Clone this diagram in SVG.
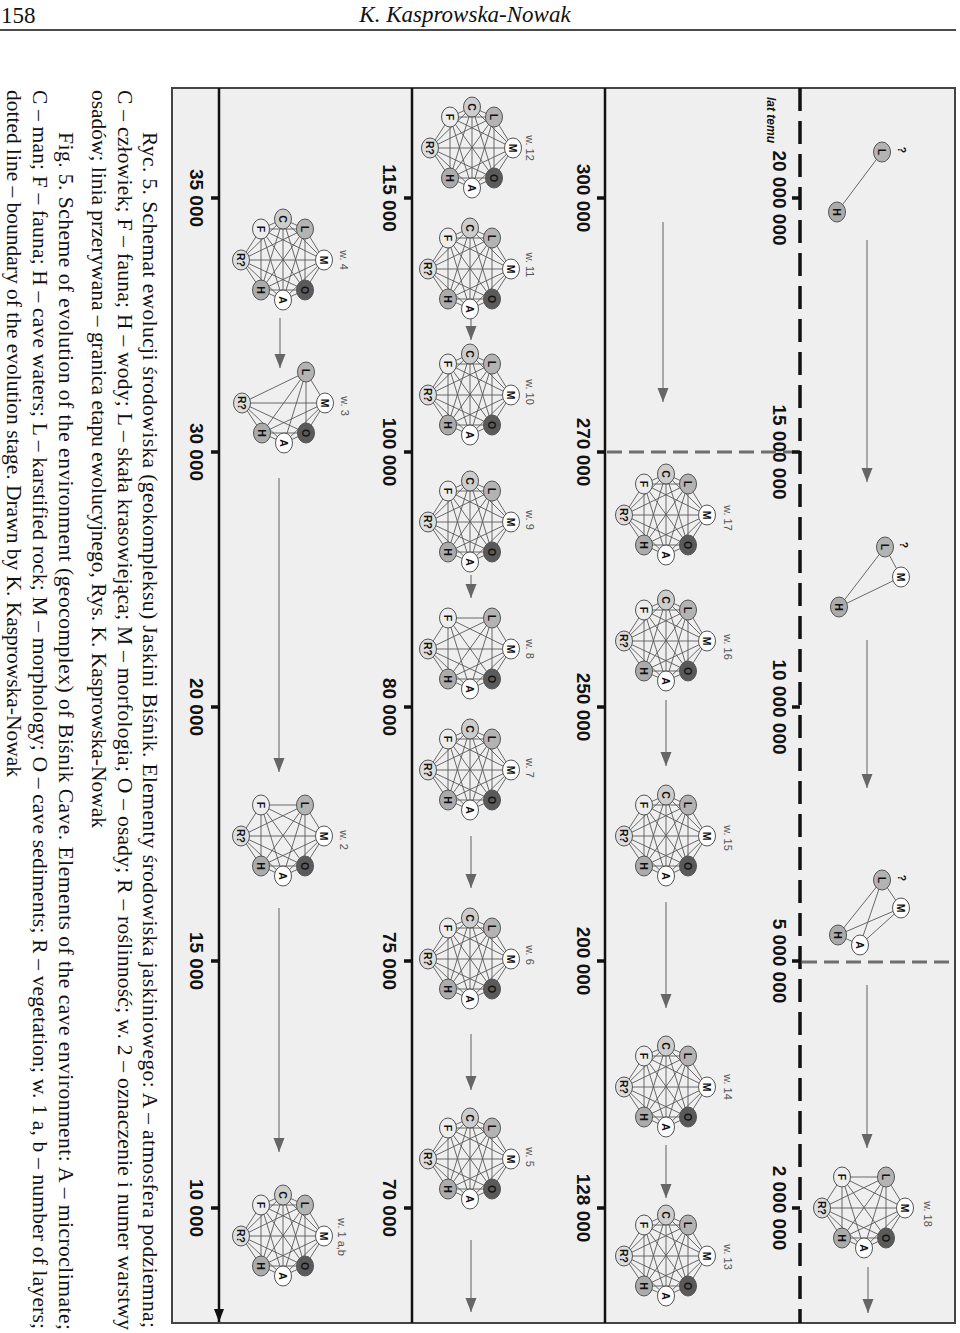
<svg xmlns="http://www.w3.org/2000/svg" xmlns:xlink="http://www.w3.org/1999/xlink" width="960" height="1333" viewBox="0 0 960 1333">
<style>
.e{fill:none;stroke:#595959;stroke-width:0.9}
ellipse{stroke:#555;stroke-width:1}
.nc{fill:#cdcdcd}.nl{fill:#b3b3b3}.nw{fill:#fff}.no{fill:#5a5a5a}.nh{fill:#ababab}.nr{fill:#dedede}.nf{fill:#ededed}
.t{font-family:"Liberation Sans",Arial,sans-serif;font-weight:bold;font-size:10.5px;text-anchor:middle;dominant-baseline:central;fill:#111}
.wl{font-family:"Liberation Sans",Arial,sans-serif;font-size:11px;fill:#555;text-anchor:middle}
.ax{font-family:"Liberation Sans",Arial,sans-serif;font-weight:bold;font-size:19px;text-anchor:middle;fill:#111}
.lt{font-family:"Liberation Sans",Arial,sans-serif;font-weight:bold;font-style:italic;font-size:12px;fill:#111}
.cap{font-family:"Liberation Serif","Times New Roman",serif;font-size:21.5px;fill:#111}
.hd{font-family:"Liberation Serif","Times New Roman",serif;font-size:23px;fill:#111}
.arr{stroke:#777;stroke-width:1.2;fill:none;marker-end:url(#ah)}
.axis{stroke:#111;stroke-width:2.5;fill:none}
.tick{stroke:#111;stroke-width:3.5}
.gd{stroke:#6e6e6e;stroke-width:3;stroke-dasharray:15 7;fill:none}
</style>
<defs>
<marker id="ah" viewBox="0 0 14 12" refX="14" refY="6" markerWidth="14" markerHeight="12" orient="auto" markerUnits="userSpaceOnUse"><path d="M0,0.5 L14,6 L0,11.5 z" fill="#666"/></marker>
<marker id="ahk" viewBox="0 0 13 10" refX="13" refY="5" markerWidth="13" markerHeight="10" orient="auto" markerUnits="userSpaceOnUse"><path d="M0,0 L13,5 L0,10 z" fill="#111"/></marker>
<path id="e6" class="e" d="M22 -31L41 0M22 -31L22 30M22 -31L0 40M22 -31L-22 30M22 -31L-42 0M41 0L22 30M41 0L0 40M41 0L-22 30M41 0L-42 0M22 30L0 40M22 30L-22 30M22 30L-42 0M0 40L-22 30M0 40L-42 0M-22 30L-42 0"/>
<path id="eF" class="e" d="M-22 -31L22 -31M-22 -31L41 0M-22 -31L22 30M-22 -31L0 40M-22 -31L-22 30M-22 -31L-42 0"/>
<path id="eC" class="e" d="M0 -41L22 -31M0 -41L41 0M0 -41L22 30M0 -41L0 40M0 -41L-22 30M0 -41L-42 0M0 -41L-22 -31"/>
<g id="k7"><use xlink:href="#e6" href="#e6"/><use xlink:href="#eF" href="#eF"/></g>
<g id="k8"><use xlink:href="#k7" href="#k7"/><use xlink:href="#eC" href="#eC"/></g>
</defs>

<g id="header">
<text class="hd" x="1" y="23">158</text>
<text class="hd" x="465" y="22" text-anchor="middle" font-style="italic">K. Kasprowska-Nowak</text>
<line x1="0" y1="30" x2="956" y2="30" stroke="#111" stroke-width="1.5"/>
</g>

<g id="frame">
<rect x="172" y="88" width="783" height="1235" fill="#efefef" stroke="#444" stroke-width="2"/>
<line class="axis" x1="219" y1="88" x2="219" y2="1322" marker-end="url(#ahk)"/>
<line class="axis" x1="412" y1="88" x2="412" y2="1323"/>
<line class="axis" x1="605" y1="88" x2="605" y2="1323"/>
<line x1="800" y1="88" x2="800" y2="1323" stroke="#111" stroke-width="3.5" stroke-dasharray="23 10"/>
<line class="gd" x1="607" y1="452" x2="793" y2="452"/>
<line class="gd" x1="802" y1="962" x2="955" y2="962"/>
<g id="ticks">
<path class="tick" d="M211 198H219M211 452H219M211 707H219M211 961H219M211 1208H219"/>
<path class="tick" d="M404 198H412M404 452H412M404 707H412M404 961H412M404 1208H412"/>
<path class="tick" d="M597 198H605M597 452H605M597 707H605M597 961H605M597 1208H605"/>
<path class="tick" d="M792 198H800M792 452H800M792 707H800M792 961H800M792 1208H800"/>
</g>
</g>

<g id="axis-labels">
<text class="lt" transform="translate(767,97) rotate(90)">lat temu</text>
<text class="ax" transform="translate(773,198) rotate(90)">20 000 000</text>
<text class="ax" transform="translate(773,452) rotate(90)">15 000 000</text>
<text class="ax" transform="translate(773,707) rotate(90)">10 000 000</text>
<text class="ax" transform="translate(773,961) rotate(90)">5 000 000</text>
<text class="ax" transform="translate(773,1208) rotate(90)">2 000 000</text>
<text class="ax" transform="translate(577,198) rotate(90)">300 000</text>
<text class="ax" transform="translate(577,452) rotate(90)">270 000</text>
<text class="ax" transform="translate(577,707) rotate(90)">250 000</text>
<text class="ax" transform="translate(577,961) rotate(90)">200 000</text>
<text class="ax" transform="translate(577,1208) rotate(90)">128 000</text>
<text class="ax" transform="translate(383,198) rotate(90)">115 000</text>
<text class="ax" transform="translate(383,452) rotate(90)">100 000</text>
<text class="ax" transform="translate(383,707) rotate(90)">80 000</text>
<text class="ax" transform="translate(383,961) rotate(90)">75 000</text>
<text class="ax" transform="translate(383,1208) rotate(90)">70 000</text>
<text class="ax" transform="translate(190,198) rotate(90)">35 000</text>
<text class="ax" transform="translate(190,452) rotate(90)">30 000</text>
<text class="ax" transform="translate(190,707) rotate(90)">20 000</text>
<text class="ax" transform="translate(190,961) rotate(90)">15 000</text>
<text class="ax" transform="translate(190,1208) rotate(90)">10 000</text>
</g>

<g id="connectors">
<line class="arr" x1="867" y1="240" x2="867" y2="482"/>
<line class="arr" x1="867" y1="640" x2="867" y2="788"/>
<line class="arr" x1="867" y1="985" x2="867" y2="1148"/>
<line class="arr" x1="868" y1="1267" x2="868" y2="1313"/>
<line class="arr" x1="663" y1="222" x2="663" y2="402"/>
<line class="arr" x1="666" y1="700" x2="666" y2="766"/>
<line class="arr" x1="666" y1="902" x2="666" y2="1008"/>
<line class="arr" x1="666" y1="1145" x2="666" y2="1198"/>
<line class="arr" x1="471" y1="318" x2="471" y2="340"/>
<line class="arr" x1="471" y1="575" x2="471" y2="598"/>
<line class="arr" x1="471" y1="836" x2="471" y2="888"/>
<line class="arr" x1="471" y1="1034" x2="471" y2="1090"/>
<line class="arr" x1="471" y1="1240" x2="471" y2="1312"/>
<line class="arr" x1="280" y1="318" x2="280" y2="368"/>
<line class="arr" x1="279" y1="478" x2="279" y2="772"/>
<line class="arr" x1="279" y1="908" x2="279" y2="1152"/>
</g>

<g id="g20M">
<line class="e" x1="882" y1="152" x2="837" y2="212"/>
<ellipse class="nl" cx="882" cy="152" rx="8.5" ry="10"/><ellipse class="nh" cx="837" cy="212" rx="8.5" ry="10"/>
<text class="t" transform="translate(882,152) rotate(90)">L</text><text class="t" transform="translate(837,212) rotate(90)">H</text>
<text class="t" font-size="11px" transform="translate(902,150) rotate(90)">?</text>
</g>
<g id="g15M">
<path class="e" d="M885 547L901 577M885 547L839 607M901 577L839 607"/>
<ellipse class="nl" cx="885" cy="547" rx="8.5" ry="10"/><ellipse class="nw" cx="901" cy="577" rx="8.5" ry="10"/><ellipse class="nh" cx="839" cy="607" rx="8.5" ry="10"/>
<text class="t" transform="translate(885,547) rotate(90)">L</text><text class="t" transform="translate(901,577) rotate(90)">M</text><text class="t" transform="translate(839,607) rotate(90)">H</text>
<text class="t" font-size="11px" transform="translate(904,545) rotate(90)">?</text>
</g>
<g id="g5M">
<path class="e" d="M882 880L901 908M882 880L838 935M882 880L860 945M901 908L838 935M901 908L860 945M838 935L860 945"/>
<ellipse class="nl" cx="882" cy="880" rx="8.5" ry="10"/><ellipse class="nw" cx="901" cy="908" rx="8.5" ry="10"/><ellipse class="nh" cx="838" cy="935" rx="8.5" ry="10"/><ellipse class="nw" cx="860" cy="945" rx="8.5" ry="10"/>
<text class="t" transform="translate(882,880) rotate(90)">L</text><text class="t" transform="translate(901,908) rotate(90)">M</text><text class="t" transform="translate(838,935) rotate(90)">H</text><text class="t" transform="translate(860,945) rotate(90)">A</text>
<text class="t" font-size="11px" transform="translate(902,878) rotate(90)">?</text>
</g>

<g id="w18" transform="translate(864,1208)">
<use xlink:href="#k7" href="#k7"/>
<ellipse class="nl" cx="22" cy="-31" rx="8.5" ry="10"/><ellipse class="nw" cx="41" cy="0" rx="8.5" ry="10"/><ellipse class="no" cx="22" cy="30" rx="8.5" ry="10"/><ellipse class="nw" cx="0" cy="40" rx="8.5" ry="10"/><ellipse class="nh" cx="-22" cy="30" rx="8.5" ry="10"/><ellipse class="nr" cx="-42" cy="0" rx="8.5" ry="10"/><ellipse class="nf" cx="-22" cy="-31" rx="8.5" ry="10"/>
<text class="t" transform="translate(22,-31) rotate(90)">L</text><text class="t" transform="translate(41,0) rotate(90)">M</text><text class="t" transform="translate(22,30) rotate(90)">O</text><text class="t" transform="translate(0,40) rotate(90)">A</text><text class="t" transform="translate(-22,30) rotate(90)">H</text><text class="t" transform="translate(-42,0) rotate(90)">R?</text><text class="t" transform="translate(-22,-31) rotate(90)">F</text>
<text class="wl" transform="translate(60,6) rotate(90)">w. 18</text>
</g>

<g id="w17" transform="translate(666,515)">
<use xlink:href="#k8" href="#k8"/>
<ellipse class="nc" cx="0" cy="-41" rx="8.5" ry="10"/><ellipse class="nl" cx="22" cy="-31" rx="8.5" ry="10"/><ellipse class="nw" cx="41" cy="0" rx="8.5" ry="10"/><ellipse class="no" cx="22" cy="30" rx="8.5" ry="10"/><ellipse class="nw" cx="0" cy="40" rx="8.5" ry="10"/><ellipse class="nh" cx="-22" cy="30" rx="8.5" ry="10"/><ellipse class="nr" cx="-42" cy="0" rx="8.5" ry="10"/><ellipse class="nf" cx="-22" cy="-31" rx="8.5" ry="10"/>
<text class="t" transform="translate(0,-41) rotate(90)">C</text><text class="t" transform="translate(22,-31) rotate(90)">L</text><text class="t" transform="translate(41,0) rotate(90)">M</text><text class="t" transform="translate(22,30) rotate(90)">O</text><text class="t" transform="translate(0,40) rotate(90)">A</text><text class="t" transform="translate(-22,30) rotate(90)">H</text><text class="t" transform="translate(-42,0) rotate(90)">R?</text><text class="t" transform="translate(-22,-31) rotate(90)">F</text>
<text class="wl" transform="translate(58,3) rotate(90)">w. 17</text>
</g>

<g id="w16" transform="translate(666,641)">
<use xlink:href="#k8" href="#k8"/>
<ellipse class="nc" cx="0" cy="-41" rx="8.5" ry="10"/><ellipse class="nl" cx="22" cy="-31" rx="8.5" ry="10"/><ellipse class="nw" cx="41" cy="0" rx="8.5" ry="10"/><ellipse class="no" cx="22" cy="30" rx="8.5" ry="10"/><ellipse class="nw" cx="0" cy="40" rx="8.5" ry="10"/><ellipse class="nh" cx="-22" cy="30" rx="8.5" ry="10"/><ellipse class="nr" cx="-42" cy="0" rx="8.5" ry="10"/><ellipse class="nf" cx="-22" cy="-31" rx="8.5" ry="10"/>
<text class="t" transform="translate(0,-41) rotate(90)">C</text><text class="t" transform="translate(22,-31) rotate(90)">L</text><text class="t" transform="translate(41,0) rotate(90)">M</text><text class="t" transform="translate(22,30) rotate(90)">O</text><text class="t" transform="translate(0,40) rotate(90)">A</text><text class="t" transform="translate(-22,30) rotate(90)">H</text><text class="t" transform="translate(-42,0) rotate(90)">R?</text><text class="t" transform="translate(-22,-31) rotate(90)">F</text>
<text class="wl" transform="translate(58,6) rotate(90)">w. 16</text>
</g>

<g id="w15" transform="translate(666,836)">
<use xlink:href="#k8" href="#k8"/>
<ellipse class="nc" cx="0" cy="-41" rx="8.5" ry="10"/><ellipse class="nl" cx="22" cy="-31" rx="8.5" ry="10"/><ellipse class="nw" cx="41" cy="0" rx="8.5" ry="10"/><ellipse class="no" cx="22" cy="30" rx="8.5" ry="10"/><ellipse class="nw" cx="0" cy="40" rx="8.5" ry="10"/><ellipse class="nh" cx="-22" cy="30" rx="8.5" ry="10"/><ellipse class="nr" cx="-42" cy="0" rx="8.5" ry="10"/><ellipse class="nf" cx="-22" cy="-31" rx="8.5" ry="10"/>
<text class="t" transform="translate(0,-41) rotate(90)">C</text><text class="t" transform="translate(22,-31) rotate(90)">L</text><text class="t" transform="translate(41,0) rotate(90)">M</text><text class="t" transform="translate(22,30) rotate(90)">O</text><text class="t" transform="translate(0,40) rotate(90)">A</text><text class="t" transform="translate(-22,30) rotate(90)">H</text><text class="t" transform="translate(-42,0) rotate(90)">R?</text><text class="t" transform="translate(-22,-31) rotate(90)">F</text>
<text class="wl" transform="translate(58,2) rotate(90)">w. 15</text>
</g>

<g id="w14" transform="translate(666,1087)">
<use xlink:href="#k8" href="#k8"/>
<ellipse class="nc" cx="0" cy="-41" rx="8.5" ry="10"/><ellipse class="nl" cx="22" cy="-31" rx="8.5" ry="10"/><ellipse class="nw" cx="41" cy="0" rx="8.5" ry="10"/><ellipse class="no" cx="22" cy="30" rx="8.5" ry="10"/><ellipse class="nw" cx="0" cy="40" rx="8.5" ry="10"/><ellipse class="nh" cx="-22" cy="30" rx="8.5" ry="10"/><ellipse class="nr" cx="-42" cy="0" rx="8.5" ry="10"/><ellipse class="nf" cx="-22" cy="-31" rx="8.5" ry="10"/>
<text class="t" transform="translate(0,-41) rotate(90)">C</text><text class="t" transform="translate(22,-31) rotate(90)">L</text><text class="t" transform="translate(41,0) rotate(90)">M</text><text class="t" transform="translate(22,30) rotate(90)">O</text><text class="t" transform="translate(0,40) rotate(90)">A</text><text class="t" transform="translate(-22,30) rotate(90)">H</text><text class="t" transform="translate(-42,0) rotate(90)">R?</text><text class="t" transform="translate(-22,-31) rotate(90)">F</text>
<text class="wl" transform="translate(58,0) rotate(90)">w. 14</text>
</g>

<g id="w13" transform="translate(666,1256)">
<use xlink:href="#k8" href="#k8"/>
<ellipse class="nc" cx="0" cy="-41" rx="8.5" ry="10"/><ellipse class="nl" cx="22" cy="-31" rx="8.5" ry="10"/><ellipse class="nw" cx="41" cy="0" rx="8.5" ry="10"/><ellipse class="no" cx="22" cy="30" rx="8.5" ry="10"/><ellipse class="nw" cx="0" cy="40" rx="8.5" ry="10"/><ellipse class="nh" cx="-22" cy="30" rx="8.5" ry="10"/><ellipse class="nr" cx="-42" cy="0" rx="8.5" ry="10"/><ellipse class="nf" cx="-22" cy="-31" rx="8.5" ry="10"/>
<text class="t" transform="translate(0,-41) rotate(90)">C</text><text class="t" transform="translate(22,-31) rotate(90)">L</text><text class="t" transform="translate(41,0) rotate(90)">M</text><text class="t" transform="translate(22,30) rotate(90)">O</text><text class="t" transform="translate(0,40) rotate(90)">A</text><text class="t" transform="translate(-22,30) rotate(90)">H</text><text class="t" transform="translate(-42,0) rotate(90)">R?</text><text class="t" transform="translate(-22,-31) rotate(90)">F</text>
<text class="wl" transform="translate(58,1) rotate(90)">w. 13</text>
</g>

<g id="w12" transform="translate(472,148)">
<use xlink:href="#k8" href="#k8"/>
<ellipse class="nc" cx="0" cy="-41" rx="8.5" ry="10"/><ellipse class="nl" cx="22" cy="-31" rx="8.5" ry="10"/><ellipse class="nw" cx="41" cy="0" rx="8.5" ry="10"/><ellipse class="no" cx="22" cy="30" rx="8.5" ry="10"/><ellipse class="nw" cx="0" cy="40" rx="8.5" ry="10"/><ellipse class="nh" cx="-22" cy="30" rx="8.5" ry="10"/><ellipse class="nr" cx="-42" cy="0" rx="8.5" ry="10"/><ellipse class="nf" cx="-22" cy="-31" rx="8.5" ry="10"/>
<text class="t" transform="translate(0,-41) rotate(90)">C</text><text class="t" transform="translate(22,-31) rotate(90)">L</text><text class="t" transform="translate(41,0) rotate(90)">M</text><text class="t" transform="translate(22,30) rotate(90)">O</text><text class="t" transform="translate(0,40) rotate(90)">A</text><text class="t" transform="translate(-22,30) rotate(90)">H</text><text class="t" transform="translate(-42,0) rotate(90)">R?</text><text class="t" transform="translate(-22,-31) rotate(90)">F</text>
<text class="wl" transform="translate(54,0) rotate(90)">w. 12</text>
</g>

<g id="w11" transform="translate(470,269)">
<use xlink:href="#k8" href="#k8"/>
<ellipse class="nc" cx="0" cy="-41" rx="8.5" ry="10"/><ellipse class="nl" cx="22" cy="-31" rx="8.5" ry="10"/><ellipse class="nw" cx="41" cy="0" rx="8.5" ry="10"/><ellipse class="no" cx="22" cy="30" rx="8.5" ry="10"/><ellipse class="nw" cx="0" cy="40" rx="8.5" ry="10"/><ellipse class="nh" cx="-22" cy="30" rx="8.5" ry="10"/><ellipse class="nr" cx="-42" cy="0" rx="8.5" ry="10"/><ellipse class="nf" cx="-22" cy="-31" rx="8.5" ry="10"/>
<text class="t" transform="translate(0,-41) rotate(90)">C</text><text class="t" transform="translate(22,-31) rotate(90)">L</text><text class="t" transform="translate(41,0) rotate(90)">M</text><text class="t" transform="translate(22,30) rotate(90)">O</text><text class="t" transform="translate(0,40) rotate(90)">A</text><text class="t" transform="translate(-22,30) rotate(90)">H</text><text class="t" transform="translate(-42,0) rotate(90)">R?</text><text class="t" transform="translate(-22,-31) rotate(90)">F</text>
<text class="wl" transform="translate(56,-4) rotate(90)">w. 11</text>
</g>

<g id="w10" transform="translate(470,395)">
<use xlink:href="#k8" href="#k8"/>
<ellipse class="nc" cx="0" cy="-41" rx="8.5" ry="10"/><ellipse class="nl" cx="22" cy="-31" rx="8.5" ry="10"/><ellipse class="nw" cx="41" cy="0" rx="8.5" ry="10"/><ellipse class="no" cx="22" cy="30" rx="8.5" ry="10"/><ellipse class="nw" cx="0" cy="40" rx="8.5" ry="10"/><ellipse class="nh" cx="-22" cy="30" rx="8.5" ry="10"/><ellipse class="nr" cx="-42" cy="0" rx="8.5" ry="10"/><ellipse class="nf" cx="-22" cy="-31" rx="8.5" ry="10"/>
<text class="t" transform="translate(0,-41) rotate(90)">C</text><text class="t" transform="translate(22,-31) rotate(90)">L</text><text class="t" transform="translate(41,0) rotate(90)">M</text><text class="t" transform="translate(22,30) rotate(90)">O</text><text class="t" transform="translate(0,40) rotate(90)">A</text><text class="t" transform="translate(-22,30) rotate(90)">H</text><text class="t" transform="translate(-42,0) rotate(90)">R?</text><text class="t" transform="translate(-22,-31) rotate(90)">F</text>
<text class="wl" transform="translate(56,-3) rotate(90)">w. 10</text>
</g>

<g id="w9" transform="translate(470,522)">
<use xlink:href="#k8" href="#k8"/>
<ellipse class="nc" cx="0" cy="-41" rx="8.5" ry="10"/><ellipse class="nl" cx="22" cy="-31" rx="8.5" ry="10"/><ellipse class="nw" cx="41" cy="0" rx="8.5" ry="10"/><ellipse class="no" cx="22" cy="30" rx="8.5" ry="10"/><ellipse class="nw" cx="0" cy="40" rx="8.5" ry="10"/><ellipse class="nh" cx="-22" cy="30" rx="8.5" ry="10"/><ellipse class="nr" cx="-42" cy="0" rx="8.5" ry="10"/><ellipse class="nf" cx="-22" cy="-31" rx="8.5" ry="10"/>
<text class="t" transform="translate(0,-41) rotate(90)">C</text><text class="t" transform="translate(22,-31) rotate(90)">L</text><text class="t" transform="translate(41,0) rotate(90)">M</text><text class="t" transform="translate(22,30) rotate(90)">O</text><text class="t" transform="translate(0,40) rotate(90)">A</text><text class="t" transform="translate(-22,30) rotate(90)">H</text><text class="t" transform="translate(-42,0) rotate(90)">R?</text><text class="t" transform="translate(-22,-31) rotate(90)">F</text>
<text class="wl" transform="translate(56,-2) rotate(90)">w. 9</text>
</g>

<g id="w8" transform="translate(470,649)">
<use xlink:href="#k7" href="#k7"/>
<ellipse class="nl" cx="22" cy="-31" rx="8.5" ry="10"/><ellipse class="nw" cx="41" cy="0" rx="8.5" ry="10"/><ellipse class="no" cx="22" cy="30" rx="8.5" ry="10"/><ellipse class="nw" cx="0" cy="40" rx="8.5" ry="10"/><ellipse class="nh" cx="-22" cy="30" rx="8.5" ry="10"/><ellipse class="nr" cx="-42" cy="0" rx="8.5" ry="10"/><ellipse class="nf" cx="-22" cy="-31" rx="8.5" ry="10"/>
<text class="t" transform="translate(22,-31) rotate(90)">L</text><text class="t" transform="translate(41,0) rotate(90)">M</text><text class="t" transform="translate(22,30) rotate(90)">O</text><text class="t" transform="translate(0,40) rotate(90)">A</text><text class="t" transform="translate(-22,30) rotate(90)">H</text><text class="t" transform="translate(-42,0) rotate(90)">R?</text><text class="t" transform="translate(-22,-31) rotate(90)">F</text>
<text class="wl" transform="translate(56,0) rotate(90)">w. 8</text>
</g>

<g id="w7" transform="translate(470,770)">
<use xlink:href="#k8" href="#k8"/>
<ellipse class="nc" cx="0" cy="-41" rx="8.5" ry="10"/><ellipse class="nl" cx="22" cy="-31" rx="8.5" ry="10"/><ellipse class="nw" cx="41" cy="0" rx="8.5" ry="10"/><ellipse class="no" cx="22" cy="30" rx="8.5" ry="10"/><ellipse class="nw" cx="0" cy="40" rx="8.5" ry="10"/><ellipse class="nh" cx="-22" cy="30" rx="8.5" ry="10"/><ellipse class="nr" cx="-42" cy="0" rx="8.5" ry="10"/><ellipse class="nf" cx="-22" cy="-31" rx="8.5" ry="10"/>
<text class="t" transform="translate(0,-41) rotate(90)">C</text><text class="t" transform="translate(22,-31) rotate(90)">L</text><text class="t" transform="translate(41,0) rotate(90)">M</text><text class="t" transform="translate(22,30) rotate(90)">O</text><text class="t" transform="translate(0,40) rotate(90)">A</text><text class="t" transform="translate(-22,30) rotate(90)">H</text><text class="t" transform="translate(-42,0) rotate(90)">R?</text><text class="t" transform="translate(-22,-31) rotate(90)">F</text>
<text class="wl" transform="translate(56,-2) rotate(90)">w. 7</text>
</g>

<g id="w6" transform="translate(470,959)">
<use xlink:href="#k8" href="#k8"/>
<ellipse class="nc" cx="0" cy="-41" rx="8.5" ry="10"/><ellipse class="nl" cx="22" cy="-31" rx="8.5" ry="10"/><ellipse class="nw" cx="41" cy="0" rx="8.5" ry="10"/><ellipse class="no" cx="22" cy="30" rx="8.5" ry="10"/><ellipse class="nw" cx="0" cy="40" rx="8.5" ry="10"/><ellipse class="nh" cx="-22" cy="30" rx="8.5" ry="10"/><ellipse class="nr" cx="-42" cy="0" rx="8.5" ry="10"/><ellipse class="nf" cx="-22" cy="-31" rx="8.5" ry="10"/>
<text class="t" transform="translate(0,-41) rotate(90)">C</text><text class="t" transform="translate(22,-31) rotate(90)">L</text><text class="t" transform="translate(41,0) rotate(90)">M</text><text class="t" transform="translate(22,30) rotate(90)">O</text><text class="t" transform="translate(0,40) rotate(90)">A</text><text class="t" transform="translate(-22,30) rotate(90)">H</text><text class="t" transform="translate(-42,0) rotate(90)">R?</text><text class="t" transform="translate(-22,-31) rotate(90)">F</text>
<text class="wl" transform="translate(56,-4) rotate(90)">w. 6</text>
</g>

<g id="w5" transform="translate(470,1159)">
<use xlink:href="#k8" href="#k8"/>
<ellipse class="nc" cx="0" cy="-41" rx="8.5" ry="10"/><ellipse class="nl" cx="22" cy="-31" rx="8.5" ry="10"/><ellipse class="nw" cx="41" cy="0" rx="8.5" ry="10"/><ellipse class="no" cx="22" cy="30" rx="8.5" ry="10"/><ellipse class="nw" cx="0" cy="40" rx="8.5" ry="10"/><ellipse class="nh" cx="-22" cy="30" rx="8.5" ry="10"/><ellipse class="nr" cx="-42" cy="0" rx="8.5" ry="10"/><ellipse class="nf" cx="-22" cy="-31" rx="8.5" ry="10"/>
<text class="t" transform="translate(0,-41) rotate(90)">C</text><text class="t" transform="translate(22,-31) rotate(90)">L</text><text class="t" transform="translate(41,0) rotate(90)">M</text><text class="t" transform="translate(22,30) rotate(90)">O</text><text class="t" transform="translate(0,40) rotate(90)">A</text><text class="t" transform="translate(-22,30) rotate(90)">H</text><text class="t" transform="translate(-42,0) rotate(90)">R?</text><text class="t" transform="translate(-22,-31) rotate(90)">F</text>
<text class="wl" transform="translate(56,-2) rotate(90)">w. 5</text>
</g>

<g id="w4" transform="translate(283,260)">
<use xlink:href="#k8" href="#k8"/>
<ellipse class="nc" cx="0" cy="-41" rx="8.5" ry="10"/><ellipse class="nl" cx="22" cy="-31" rx="8.5" ry="10"/><ellipse class="nw" cx="41" cy="0" rx="8.5" ry="10"/><ellipse class="no" cx="22" cy="30" rx="8.5" ry="10"/><ellipse class="nw" cx="0" cy="40" rx="8.5" ry="10"/><ellipse class="nh" cx="-22" cy="30" rx="8.5" ry="10"/><ellipse class="nr" cx="-42" cy="0" rx="8.5" ry="10"/><ellipse class="nf" cx="-22" cy="-31" rx="8.5" ry="10"/>
<text class="t" transform="translate(0,-41) rotate(90)">C</text><text class="t" transform="translate(22,-31) rotate(90)">L</text><text class="t" transform="translate(41,0) rotate(90)">M</text><text class="t" transform="translate(22,30) rotate(90)">O</text><text class="t" transform="translate(0,40) rotate(90)">A</text><text class="t" transform="translate(-22,30) rotate(90)">H</text><text class="t" transform="translate(-42,0) rotate(90)">R?</text><text class="t" transform="translate(-22,-31) rotate(90)">F</text>
<text class="wl" transform="translate(57,0) rotate(90)">w. 4</text>
</g>

<g id="w3" transform="translate(284,403)">
<use xlink:href="#e6" href="#e6"/>
<ellipse class="nl" cx="22" cy="-31" rx="8.5" ry="10"/><ellipse class="nw" cx="41" cy="0" rx="8.5" ry="10"/><ellipse class="no" cx="22" cy="30" rx="8.5" ry="10"/><ellipse class="nw" cx="0" cy="40" rx="8.5" ry="10"/><ellipse class="nh" cx="-22" cy="30" rx="8.5" ry="10"/><ellipse class="nr" cx="-42" cy="0" rx="8.5" ry="10"/>
<text class="t" transform="translate(22,-31) rotate(90)">L</text><text class="t" transform="translate(41,0) rotate(90)">M</text><text class="t" transform="translate(22,30) rotate(90)">O</text><text class="t" transform="translate(0,40) rotate(90)">A</text><text class="t" transform="translate(-22,30) rotate(90)">H</text><text class="t" transform="translate(-42,0) rotate(90)">R?</text>
<text class="wl" transform="translate(57,3) rotate(90)">w. 3</text>
</g>

<g id="w2" transform="translate(283,836)">
<use xlink:href="#k7" href="#k7"/>
<ellipse class="nl" cx="22" cy="-31" rx="8.5" ry="10"/><ellipse class="nw" cx="41" cy="0" rx="8.5" ry="10"/><ellipse class="no" cx="22" cy="30" rx="8.5" ry="10"/><ellipse class="nw" cx="0" cy="40" rx="8.5" ry="10"/><ellipse class="nh" cx="-22" cy="30" rx="8.5" ry="10"/><ellipse class="nr" cx="-42" cy="0" rx="8.5" ry="10"/><ellipse class="nf" cx="-22" cy="-31" rx="8.5" ry="10"/>
<text class="t" transform="translate(22,-31) rotate(90)">L</text><text class="t" transform="translate(41,0) rotate(90)">M</text><text class="t" transform="translate(22,30) rotate(90)">O</text><text class="t" transform="translate(0,40) rotate(90)">A</text><text class="t" transform="translate(-22,30) rotate(90)">H</text><text class="t" transform="translate(-42,0) rotate(90)">R?</text><text class="t" transform="translate(-22,-31) rotate(90)">F</text>
<text class="wl" transform="translate(57,4) rotate(90)">w. 2</text>
</g>

<g id="w1ab" transform="translate(283,1236)">
<use xlink:href="#k8" href="#k8"/>
<ellipse class="nc" cx="0" cy="-41" rx="8.5" ry="10"/><ellipse class="nl" cx="22" cy="-31" rx="8.5" ry="10"/><ellipse class="nw" cx="41" cy="0" rx="8.5" ry="10"/><ellipse class="no" cx="22" cy="30" rx="8.5" ry="10"/><ellipse class="nw" cx="0" cy="40" rx="8.5" ry="10"/><ellipse class="nh" cx="-22" cy="30" rx="8.5" ry="10"/><ellipse class="nr" cx="-42" cy="0" rx="8.5" ry="10"/><ellipse class="nf" cx="-22" cy="-31" rx="8.5" ry="10"/>
<text class="t" transform="translate(0,-41) rotate(90)">C</text><text class="t" transform="translate(22,-31) rotate(90)">L</text><text class="t" transform="translate(41,0) rotate(90)">M</text><text class="t" transform="translate(22,30) rotate(90)">O</text><text class="t" transform="translate(0,40) rotate(90)">A</text><text class="t" transform="translate(-22,30) rotate(90)">H</text><text class="t" transform="translate(-42,0) rotate(90)">R?</text><text class="t" transform="translate(-22,-31) rotate(90)">F</text>
<text class="wl" transform="translate(55,1) rotate(90)">w. 1 a,b</text>
</g>

<g id="caption">
<text class="cap" transform="translate(143,132) rotate(90)" textLength="1196" lengthAdjust="spacing">Ryc. 5. Schemat ewolucji środowiska (geokompleksu) Jaskini Biśnik. Elementy środowiska jaskiniowego: A – atmosfera podziemna;</text>
<text class="cap" transform="translate(118,90) rotate(90)" textLength="1240" lengthAdjust="spacing">C – człowiek; F – fauna; H – wody; L – skała krasowiejąca; M – morfologia; O – osady; R – roślinność; w. 2 – oznaczenie i numer warstwy</text>
<text class="cap" transform="translate(92,90) rotate(90)" textLength="738" lengthAdjust="spacing">osadów; linia przerywana – granica etapu ewolucyjnego, Rys. K. Kasprowska-Nowak</text>
<text class="cap" transform="translate(59,132) rotate(90)" textLength="1198" lengthAdjust="spacing">Fig. 5. Scheme of evolution of the environment (geocomplex) of Biśnik Cave. Elements of the cave environment: A – microclimate;</text>
<text class="cap" transform="translate(33,90) rotate(90)" textLength="1239" lengthAdjust="spacing">C – man; F – fauna; H – cave waters; L – karstified rock; M – morphology; O – cave sediments; R – vegetation; w. 1 a, b – number of layers;</text>
<text class="cap" transform="translate(7,90) rotate(90)" textLength="687" lengthAdjust="spacing">dotted line – boundary of the evolution stage. Drawn by K. Kasprowska-Nowak</text>
</g>
</svg>
